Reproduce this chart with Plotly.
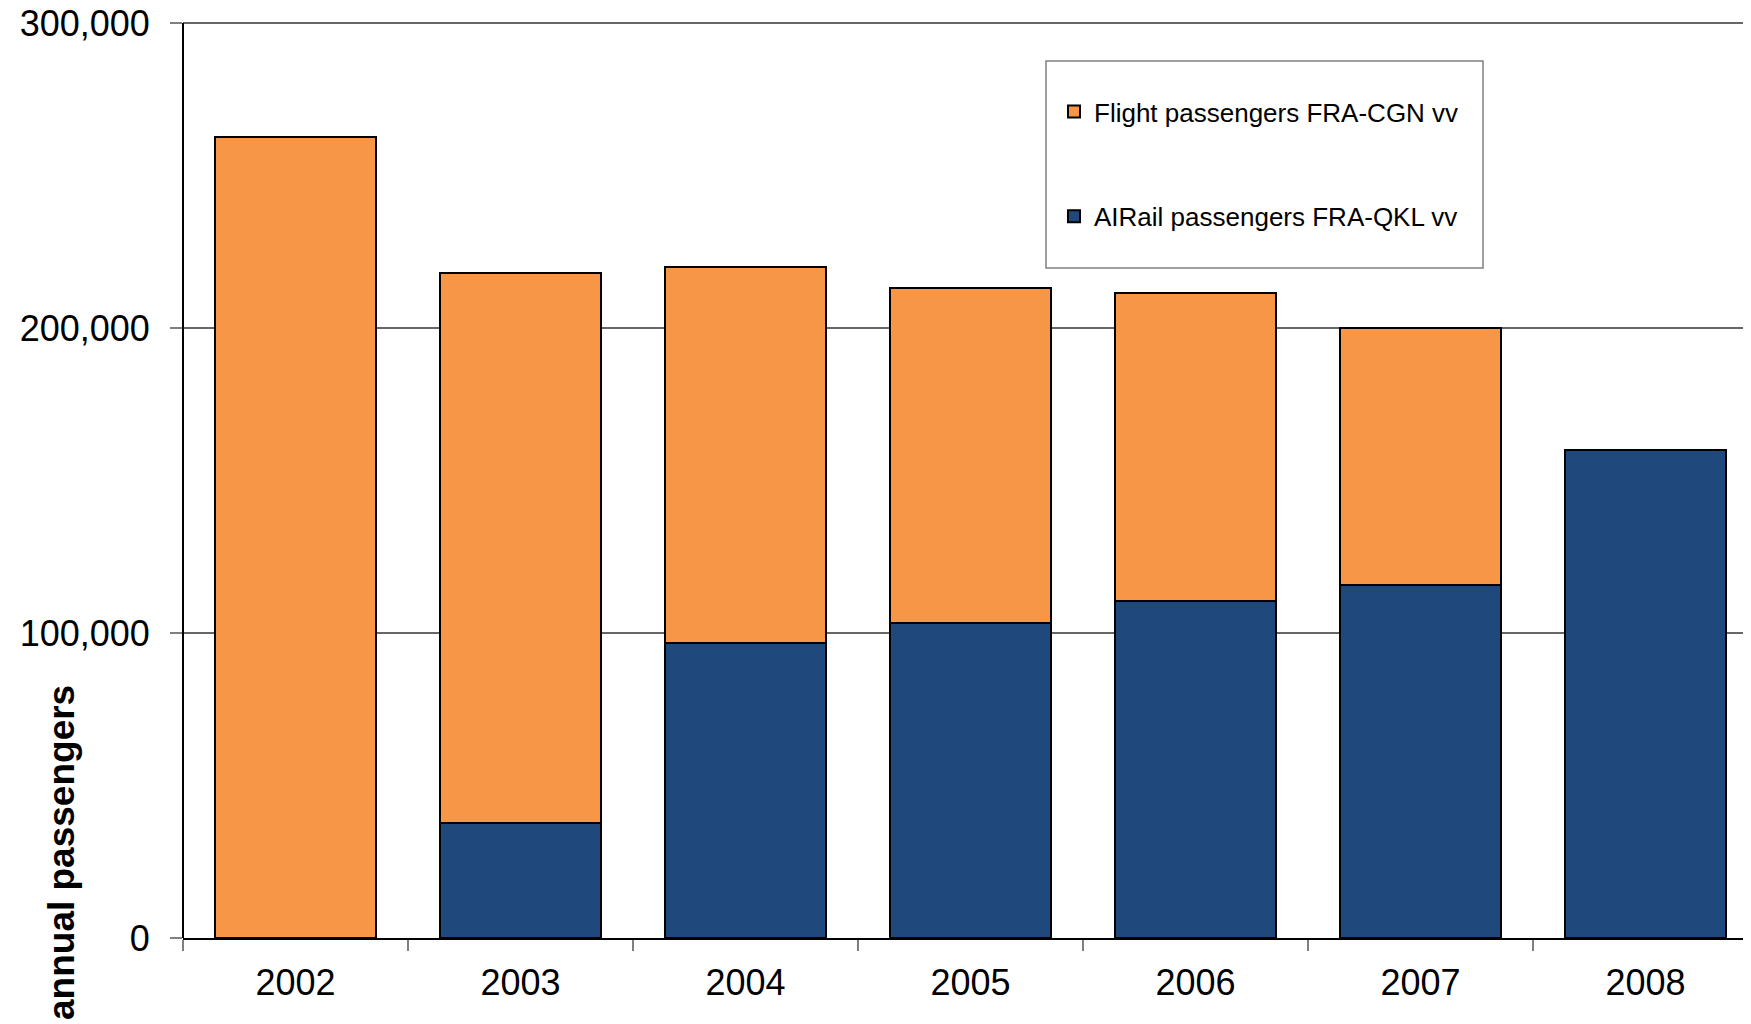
import plotly.graph_objects as go

years = ["2002", "2003", "2004", "2005", "2006", "2007", "2008"]
airail = [0, 37700, 96700, 103300, 110600, 115900, 160100]
flight = [262500, 180300, 123400, 109900, 101000, 84100, 0]
y_ticks = [0, 100000, 200000, 300000]
y_tick_text = ["0", "100,000", "200,000", "300,000"]

# page body has an 8px margin; positions below are in figure pixels
OFF = 8
EXTRA = 4  # a few px of headroom so the top gridline renders
W, H = 1751, 1024
L, T = 183 - OFF, 23 - OFF - EXTRA
R = max(W - (1758 - OFF), 0)
B = H - (938 - OFF)
pw, ph = W - L - R, H - T - B
y_top = 300000 * ph / (ph - EXTRA)

def px_x(x):
    return (x - OFF - L) / pw

def px_y(y):
    return (H - B - (y - OFF)) / ph

fig = go.Figure()
fig.add_trace(go.Bar(
    x=years, y=airail, name="AIRail passengers FRA-QKL vv",
    marker=dict(color="#1F497D", line=dict(color="#000000", width=2)),
    legendgroup="b", legendrank=2,
))
fig.add_trace(go.Bar(
    x=years, y=flight, name="Flight passengers FRA-CGN vv",
    marker=dict(color="#F79646", line=dict(color="#000000", width=2)),
    legendgroup="a", legendrank=1,
))

fig.update_layout(
    width=W, height=H,
    margin=dict(l=L, r=R, t=T, b=B, pad=0, autoexpand=False),
    barmode="stack", bargap=0.284,
    plot_bgcolor="white", paper_bgcolor="white",
    font=dict(family="Liberation Sans, Arial, sans-serif", size=36, color="#000000"),
    showlegend=True,
    legend=dict(
        x=px_x(1054), y=px_y(88), xanchor="left", yanchor="top",
        traceorder="grouped", tracegroupgap=68,
        bgcolor="rgba(0,0,0,0)", borderwidth=0,
        font=dict(family="Liberation Sans, Arial, sans-serif", size=26, color="#000000"),
    ),
    shapes=[dict(
        type="rect", xref="paper", yref="paper",
        x0=px_x(1046), x1=px_x(1483), y0=px_y(268), y1=px_y(61),
        line=dict(color="#808080", width=1.5), fillcolor="white", layer="below",
    )],
    annotations=[dict(
        text="<b>annual passengers</b>", xref="paper", yref="paper",
        x=px_x(61), y=px_y(852), xanchor="center", yanchor="middle",
        textangle=-90, showarrow=False,
        font=dict(family="Liberation Sans, Arial, sans-serif", size=37, color="#000000"),
    )],
)

fig.update_xaxes(
    type="category", range=[-0.5, -0.5 + pw / 225.0], automargin=False,
    showline=True, linecolor="#000000", linewidth=2,
    ticks="outside", tickson="boundaries", ticklen=11, tickcolor="#808080", tickwidth=1.5,
    showgrid=False, ticklabelstandoff=12,
    tickfont=dict(size=36),
)
fig.update_yaxes(
    range=[0, y_top], tickvals=y_ticks, ticktext=y_tick_text, automargin=False,
    showline=False,
    ticks="outside", ticklen=12, tickcolor="#808080", tickwidth=1.5,
    showgrid=True, gridcolor="#666666", gridwidth=1.5,
    zeroline=False, ticklabelstandoff=13, ticklabeloverflow="allow",
    tickfont=dict(size=36),
)
# left axis line spanning only 0..300,000 as in the reference
fig.add_shape(type="line", xref="paper", yref="y", x0=0, x1=0, y0=0, y1=300000,
              line=dict(color="#000000", width=2))

fig.write_html("out.html")
